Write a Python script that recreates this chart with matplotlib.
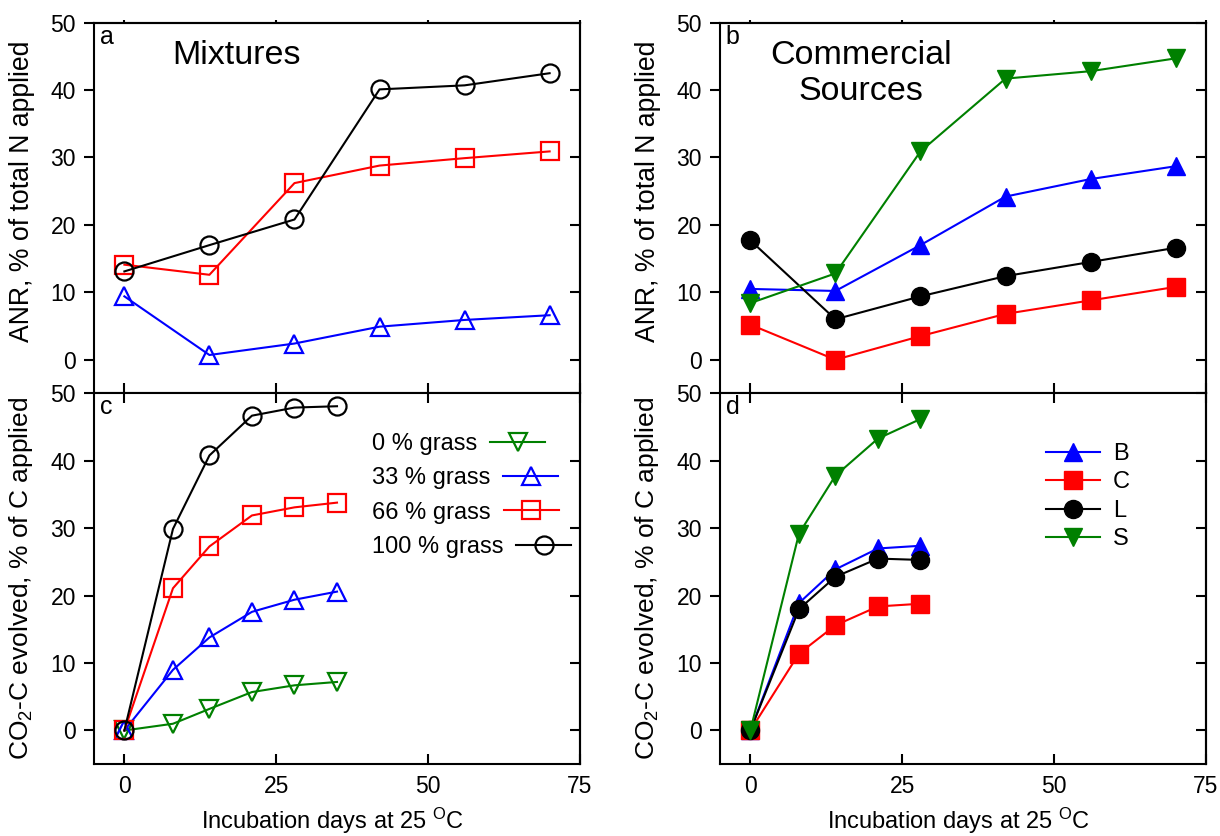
import matplotlib
matplotlib.use('Agg')
import matplotlib.pyplot as plt

plt.rcParams['font.family'] = ['Liberation Sans', 'DejaVu Sans']
plt.rcParams['mathtext.default'] = 'regular'

# ---------------- data ----------------
days_anr = [0, 14, 28, 42, 56, 70]
days_co2_mix = [0, 8, 14, 21, 28, 35]
days_co2_com = [0, 8, 14, 21, 28]

mix_labels = ['0 % grass', '33 % grass', '66 % grass', '100 % grass']
com_labels = ['B', 'C', 'L', 'S']

# panel a: ANR mixtures (0 % grass not shown)
anr_mix_33 = [9.4, 0.7, 2.4, 4.9, 5.9, 6.6]
anr_mix_66 = [14.1, 12.6, 26.2, 28.8, 29.9, 30.9]
anr_mix_100 = [13.1, 17.0, 20.8, 40.1, 40.7, 42.5]

# panel b: ANR commercial sources
anr_B = [10.5, 10.2, 17.0, 24.2, 26.8, 28.7]
anr_C = [5.2, 0.0, 3.5, 6.8, 8.8, 10.8]
anr_L = [17.7, 6.0, 9.4, 12.4, 14.5, 16.6]
anr_S = [8.4, 12.8, 30.9, 41.7, 42.8, 44.7]

# panel c: CO2-C mixtures
co2_mix_0 = [0, 1.0, 3.2, 5.7, 6.7, 7.2]
co2_mix_33 = [0, 9.0, 13.8, 17.6, 19.4, 20.6]
co2_mix_66 = [0, 21.1, 27.3, 31.9, 33.1, 33.8]
co2_mix_100 = [0, 29.9, 40.8, 46.7, 47.9, 48.1]

# panel d: CO2-C commercial sources
co2_B = [0, 18.9, 23.9, 27.0, 27.4]
co2_C = [0, 11.4, 15.6, 18.4, 18.8]
co2_L = [0, 18.0, 22.8, 25.5, 25.3]
co2_S = [0, 29.2, 37.8, 43.3, 46.2]

xticks = [0, 25, 50, 75]
yticks = [0, 10, 20, 30, 40, 50]

# ---------------- figure ----------------
fig = plt.figure(figsize=(12.2, 8.36), dpi=100)
W, H = 1220, 836
lx, rx, aw = 94 / W, 720 / W, 486 / W
ah = 0.4435
by = 0.0859
ty = by + ah

ax_a = fig.add_axes([lx, ty, aw, ah])
ax_b = fig.add_axes([rx, ty, aw, ah])
ax_c = fig.add_axes([lx, by, aw, ah])
ax_d = fig.add_axes([rx, by, aw, ah])

LW = 1.5
MS = 13
MEW = 1.6
TICKFS = 16.5


def style(ax, top_panel):
    ax.set_xlim(-5, 75)
    ax.set_ylim(-5, 50)
    ax.set_xticks(xticks)
    ax.set_yticks(yticks)
    for s in ax.spines.values():
        s.set_linewidth(LW)
    ax.tick_params(axis='x', direction='in', length=7, width=LW,
                   bottom=True, top=not top_panel, labelsize=TICKFS, pad=8)
    ax.tick_params(axis='y', direction='out', length=7, width=LW,
                   left=True, right=False, labelsize=TICKFS, pad=6)
    sec = ax.secondary_yaxis('right')
    sec.set_yticks(yticks)
    sec.tick_params(direction='in', length=7, width=LW, labelright=False)
    for s in sec.spines.values():
        s.set_linewidth(LW)
    if top_panel:
        ax.tick_params(axis='x', labelbottom=False)
        sect = ax.secondary_xaxis('top')
        sect.set_xticks(xticks)
        sect.tick_params(direction='out', length=2.5, width=LW, labeltop=False)
        for s in sect.spines.values():
            s.set_linewidth(LW)


for ax, tp in ((ax_a, True), (ax_b, True), (ax_c, False), (ax_d, False)):
    style(ax, tp)

open_kw = dict(lw=LW, ms=MS, mew=MEW, markerfacecolor='none', clip_on=False)
fill_kw = dict(lw=LW, ms=MS, mew=1.0, clip_on=False)

# panel a
ax_a.plot(days_anr, anr_mix_33, color='blue', marker='^', **open_kw)
ax_a.plot(days_anr, anr_mix_66, color='red', marker='s', **open_kw)
ax_a.plot(days_anr, anr_mix_100, color='black', marker='o', **open_kw)

# panel b
ax_b.plot(days_anr, anr_B, color='blue', marker='^', **fill_kw)
ax_b.plot(days_anr, anr_C, color='red', marker='s', **fill_kw)
ax_b.plot(days_anr, anr_L, color='black', marker='o', **fill_kw)
ax_b.plot(days_anr, anr_S, color='green', marker='v', **fill_kw)

# panel c
hc = []
hc += ax_c.plot(days_co2_mix, co2_mix_0, color='green', marker='v', label=mix_labels[0], **open_kw)
hc += ax_c.plot(days_co2_mix, co2_mix_33, color='blue', marker='^', label=mix_labels[1], **open_kw)
hc += ax_c.plot(days_co2_mix, co2_mix_66, color='red', marker='s', label=mix_labels[2], **open_kw)
hc += ax_c.plot(days_co2_mix, co2_mix_100, color='black', marker='o', label=mix_labels[3], **open_kw)

# panel d
hd = []
hd += ax_d.plot(days_co2_com, co2_B, color='blue', marker='^', label=com_labels[0], **fill_kw)
hd += ax_d.plot(days_co2_com, co2_C, color='red', marker='s', label=com_labels[1], **fill_kw)
hd += ax_d.plot(days_co2_com, co2_L, color='black', marker='o', label=com_labels[2], **fill_kw)
hd += ax_d.plot(days_co2_com, co2_S, color='green', marker='v', label=com_labels[3], **fill_kw)

# legends
leg_c = ax_c.legend(handles=hc, loc='upper left', bbox_to_anchor=(0.572, 0.893),
                    frameon=False, borderpad=0, borderaxespad=0, markerfirst=False,
                    fontsize=17, handlelength=2.33, handletextpad=0.55,
                    labelspacing=0.52)
for col in leg_c._legend_handle_box.get_children():
    col.align = 'left'

leg_d = ax_d.legend(handles=hd, loc='upper left', bbox_to_anchor=(0.670, 0.866),
                    frameon=False, borderpad=0, borderaxespad=0, markerfirst=True,
                    fontsize=17, handlelength=2.3, handletextpad=0.55,
                    labelspacing=0.27)

# labels
for ax in (ax_a, ax_b):
    ax.set_ylabel('ANR, % of total N applied', fontsize=19.2)
    ax.yaxis.set_label_coords(-0.122, 0.545)
for ax in (ax_c, ax_d):
    ax.set_ylabel('CO$_2$-C evolved, % of C applied', fontsize=19)
    ax.yaxis.set_label_coords(-0.122, 0.5)
    ax.set_xlabel('Incubation days at 25 $^{O}$C', fontsize=17)
    ax.xaxis.set_label_coords(0.49, -0.112)

# panel letters
for ax, letter in ((ax_a, 'a'), (ax_b, 'b'), (ax_c, 'c'), (ax_d, 'd')):
    ax.text(0.012, 0.995, letter, transform=ax.transAxes, ha='left', va='top', fontsize=18)

ax_a.text(0.294, 0.8875, 'Mixtures', transform=ax_a.transAxes, ha='center',
          va='baseline', fontsize=24.5)
ax_b.text(0.290, 0.953, 'Commercial\nSources', transform=ax_b.transAxes, ha='center',
          va='top', fontsize=24.5, linespacing=1.2)

fig.savefig('out.png', dpi=100)
